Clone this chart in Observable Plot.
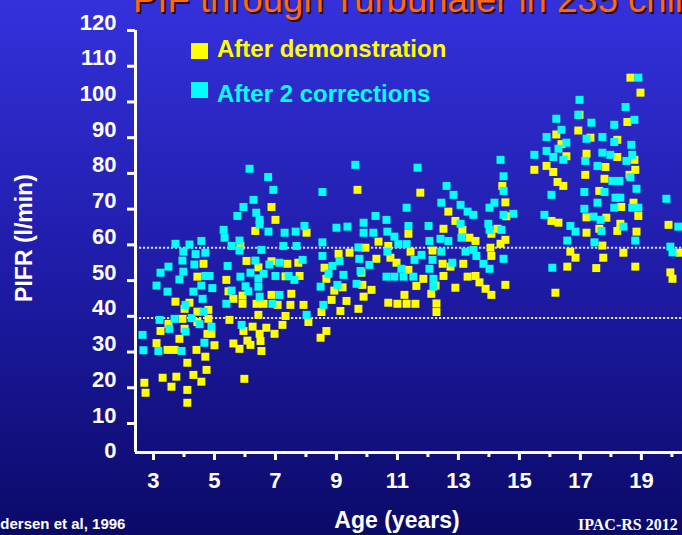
<!DOCTYPE html>
<html>
<head>
<meta charset="utf-8">
<script src="https://cdn.jsdelivr.net/npm/d3@7"></script>
<script src="https://cdn.jsdelivr.net/npm/@observablehq/plot@0.6"></script>
<style>
html, body { margin: 0; padding: 0; overflow: hidden; background: #0b0a6a; }
#stage {
  position: relative; width: 682px; height: 535px; overflow: hidden;
  background: linear-gradient(180deg, #3431dc 0%, #1f1ca8 50%, #0b0a68 100%);
  font-family: "Liberation Sans", Arial, sans-serif;
}
#chart, #overlay { position: absolute; left: 0; top: 0; }
#chart svg { max-width: none !important; width: 740px; height: 500px; }
</style>
</head>
<body>
<div id="stage"><div id="chart"></div></div>
<script>
// ---- data: [age (years), PIFR (l/min)] ----
const afterDemonstration = [
[6.87,70.6],[7.0,67.0],[6.34,63.9],[8.02,63.4],[5.85,59.7],[6.05,55.5],[4.64,54.7],[7.39,54.7],[7.75,55.0],[6.87,55.4],[6.44,53.7],[8.61,53.6],[4.44,51.1],[5.39,50.2],[7.79,51.3],[7.33,51.2],
[5.46,47.0],[5.62,44.9],[5.92,45.8],[5.92,43.5],[6.38,43.5],[6.61,43.5],[6.87,46.0],[7.07,43.2],[7.52,46.3],[7.49,43.2],[7.92,43.2],[3.72,44.1],[4.18,43.8],[4.02,42.1],[4.44,41.3],[4.80,41.8],[4.80,39.3],[3.95,39.3],[3.49,37.9],[3.23,35.9],[4.44,38.4],[4.77,35.1],[4.90,35.1],[4.02,36.5],[3.85,33.7],[3.10,32.5],[3.46,30.6],[3.69,30.6],[4.41,30.6],[5.0,31.9],[4.70,28.7],[4.11,27.0],[4.74,25.0],[4.31,23.6],[3.75,23.1],[3.30,22.8],[4.57,21.7],[3.59,20.3],[4.11,19.4],[2.70,21.4],[2.74,18.6],[4.11,15.8],[5.49,39.0],[6.44,40.4],[5.95,35.9],[6.25,37.1],[6.70,36.8],[7.23,37.6],[7.33,40.1],[6.97,35.1],[6.48,35.1],[6.51,33.1],[6.08,33.2],[6.18,32.0],[5.62,32.4],[5.82,30.9],[6.54,30.3],[5.98,22.5],[8.08,38.4],[8.48,34.0],[8.51,41.2],
[9.69,75.4],[11.75,74.6],[14.44,76.5],[14.54,71.9],[12.67,69.3],[12.90,66.7],[13.13,64.2],[12.51,64.5],[11.36,63.1],[14.08,63.1],[14.28,64.5],[14.54,61.4],[14.38,60.3],[10.38,60.9],[10.70,59.7],[11.43,58.1],[12.15,58.4],[13.36,62.0],[13.56,61.1],[14.05,59.2],[14.08,56.9],[9.07,57.5],[9.43,57.8],[9.95,59.2],[10.31,56.1],[10.77,56.4],[10.97,55.0],[12.48,54.7],[12.74,53.9],[13.16,54.7],[9.82,52.2],[11.36,53.0],[12.51,51.3],[13.30,51.1],[13.56,51.3],[11.85,50.5],[8.67,50.5],
[8.93,47.2],[8.84,44.6],[9.20,48.1],[9.33,44.3],[9.13,41.5],[9.85,48.8],[9.89,45.5],[10.15,47.4],[9.72,42.1],[10.70,43.8],[11.0,43.5],[11.23,46.0],[11.30,43.5],[11.59,43.5],[11.62,48.5],[12.11,46.3],[12.28,43.6],[12.28,41.2],[12.25,48.6],[12.90,48.0],[13.69,49.5],[13.89,47.7],[14.08,46.0],[14.54,48.8],[8.67,35.9],
[18.64,106.8],[18.97,102.6],[16.97,96.4],[18.54,94.4],[16.93,92.0],[16.21,90.9],[17.33,90.0],[18.21,89.4],[16.38,88.2],[16.54,84.8],[17.20,85.5],[18.21,84.6],[18.77,83.8],[17.82,81.8],[18.80,81.0],[15.89,82.1],[15.49,81.0],[16.11,80.4],[17.16,79.6],[18.61,79.6],[17.79,78.5],[16.25,77.6],[16.44,76.5],[17.62,75.1],[18.34,70.6],[18.74,71.8],[18.90,68.1],[17.20,67.7],[17.85,67.6],[16.05,66.7],[16.28,66.2],[18.31,65.9],[17.62,64.5],[17.20,63.4],[18.21,63.9],[18.84,63.7],[19.89,65.6],[14.57,68.0],
[17.72,59.8],[16.67,58.1],[16.84,56.4],[16.57,53.9],[17.75,56.4],[18.41,57.8],[17.52,53.5],[18.80,53.9],[20.25,57.8],[19.95,52.3],[20.02,50.5],[16.18,46.6]
];
const afterTwoCorrections = [
[6.15,81.3],[6.76,79.0],[6.93,75.4],[6.28,72.6],[5.95,70.6],[5.75,68.1],[6.37,69.0],[6.48,67.0],[6.48,65.7],[6.77,63.7],[7.30,63.4],[7.66,63.7],[7.95,65.3],[5.30,64.2],[5.33,62.0],[4.57,61.1],[3.72,60.3],[4.18,60.1],[5.82,61.2],[5.56,59.7],[5.82,58.4],[3.98,58.1],[4.38,57.4],[4.70,57.8],[6.54,58.6],[7.26,59.7],[7.69,59.7],[8.54,60.7],[3.95,55.6],[4.34,54.5],[3.49,53.9],[3.23,52.2],[3.98,52.5],[5.43,54.1],[6.34,55.6],[6.80,54.5],[7.13,55.0],[7.89,55.8],[8.54,56.9],[6.18,52.2],[6.61,51.9],[7.0,51.3],[7.43,51.3],[5.85,51.1],[4.70,51.3],[4.84,51.3],[3.85,50.3],[7.62,50.2],[6.44,50.6],[8.54,74.8],
[3.10,48.6],[3.46,46.9],[4.31,46.9],[4.57,48.6],[4.93,47.9],[4.61,44.9],[4.05,43.2],[5.56,47.2],[5.39,43.5],[6.11,47.0],[6.02,48.4],[6.44,48.3],[6.48,45.5],[7.13,46.0],[6.90,43.5],[8.48,48.3],[8.57,43.2],[3.20,39.0],[3.69,39.3],[4.25,39.5],[4.64,41.3],[4.51,37.8],[4.90,37.1],[3.52,36.5],[4.05,35.7],[2.64,34.8],[2.67,30.5],[3.16,30.3],[3.92,30.3],[4.67,32.6],[5.89,37.6],[8.02,40.4],
[9.62,82.4],[11.66,81.6],[14.38,83.8],[14.48,79.2],[14.48,75.1],[12.61,76.5],[12.84,74.0],[12.44,71.8],[13.07,71.2],[13.30,69.3],[13.49,68.4],[14.18,71.8],[14.02,70.4],[14.48,68.4],[11.30,70.4],[10.28,68.1],[10.64,67.0],[9.89,66.2],[9.36,65.1],[9.0,64.8],[11.36,65.3],[12.02,65.3],[13.07,65.9],[13.98,65.9],[14.02,64.2],[14.41,64.2],[9.89,63.4],[10.21,63.4],[10.67,63.7],[10.90,62.3],[12.05,61.1],[12.41,61.7],[12.67,61.1],[13.10,62.0],[11.03,60.2],[11.30,60.2],[9.72,59.3],[10.67,58.1],[9.10,55.5],[8.87,54.1],[9.75,56.1],[10.08,54.4],[9.79,52.7],[8.74,51.9],[9.23,51.6],[11.56,55.8],[11.79,57.2],[12.15,55.8],[12.44,58.1],[13.23,58.1],[13.49,58.6],[13.59,56.9],[12.80,55.0],[13.82,54.7],[14.02,53.3],[14.48,56.1],[11.13,53.3],[12.05,53.3],[12.18,50.5],[10.64,51.1],[10.90,51.1],[11.20,51.1],[11.52,51.1],[9.66,49.1],[9.03,48.8],[12.18,48.3],
[18.90,106.8],[16.97,100.6],[18.48,98.6],[16.21,95.3],[16.93,96.4],[17.36,94.2],[18.11,93.6],[18.77,95.0],[16.38,92.2],[15.89,90.2],[17.20,89.7],[17.72,90.2],[16.54,88.6],[18.11,88.8],[18.67,88.0],[15.49,85.2],[15.89,86.3],[16.28,86.9],[16.11,84.6],[16.44,83.8],[17.16,83.5],[17.72,85.8],[17.98,85.2],[18.51,83.5],[18.70,85.2],[17.56,82.1],[18.64,78.9],[18.05,77.9],[18.28,77.9],[17.79,74.8],[17.13,74.8],[16.05,74.0],[18.84,75.7],[18.15,73.2],[18.31,73.2],[17.56,71.8],[17.13,70.1],[18.11,70.4],[18.70,70.4],[18.90,70.4],[19.82,72.9],[15.82,68.4],[14.80,68.7],[17.43,67.9],[17.66,67.0],[16.67,65.3],[16.84,63.7],[17.69,63.9],[18.41,65.1],[20.21,65.1],
[16.57,61.2],[17.46,60.7],[18.80,61.2],[19.95,59.5],[20.02,57.9],[16.08,53.6]
];
const seriesNames = ["After demonstration", "After 2 corrections"];
const seriesColors = ["#ffff00", "#00ffff"];
const xTickLabels = [3, 5, 7, 9, 11, 13, 15, 17, 19];
const xMajorTicks = [3, 5, 7, 9, 11, 13, 15, 17, 19, 21];
const xMinorTicks = [4, 6, 8, 10, 12, 14, 16, 18, 20, 22];
const yTickLabels = [0, 10, 20, 30, 40, 50, 60, 70, 80, 90, 100, 110, 120];
const yTickMarks = [10, 20, 30, 40, 50, 60, 70, 80, 90, 100, 110, 120];
const referenceLines = [59.2, 39.5];
const titleText = "PIF through Turbuhaler in 235 children";
const xTitle = "Age (years)";
const yTitle = "PIFR (l/min)";
const sourceLeft = "Pedersen et al, 1996";
const sourceRight = "IPAC-RS 2012";

const xDomain = [2.41, 22.25];
const yDomain = [1.88, 120];
const font = '"Liberation Sans", Arial, sans-serif';

const chart = Plot.plot({
  width: 740, height: 500,
  marginLeft: 135, marginRight: 0, marginTop: 30, marginBottom: 48,
  style: { background: "none", fontFamily: font, overflow: "visible", maxWidth: "none" },
  x: { domain: xDomain, axis: null },
  y: { domain: yDomain, axis: null },
  marks: [
    Plot.ruleY(referenceLines, { stroke: "#dcdcf2", strokeWidth: 2, strokeDasharray: "2.2,1.8" }),
    Plot.dot(afterDemonstration, { x: d => d[0], y: d => d[1], symbol: "square", r: 4.5, fill: seriesColors[0], stroke: "none" }),
    Plot.dot(afterTwoCorrections, { x: d => d[0], y: d => d[1], symbol: "square", r: 4.5, fill: seriesColors[1], stroke: "none" }),
    Plot.ruleX([xDomain[0]], { y1: yDomain[0], y2: yDomain[1], stroke: "white", strokeWidth: 3 }),
    Plot.ruleY([yDomain[0]], { x1: xDomain[0], x2: xDomain[1], stroke: "white", strokeWidth: 3 }),
    Plot.axisY(yTickMarks, { tickSize: 8, stroke: "white", strokeWidth: 3, fill: "none", label: null }),
    Plot.axisY(yTickLabels, { tickSize: 0, tickPadding: 19, stroke: "none", fill: "white", fontSize: 22, fontWeight: "bold", dy: -8, label: null }),
    Plot.axisX(xMajorTicks, { tickSize: 8, stroke: "white", strokeWidth: 3, fill: "none", label: null }),
    Plot.axisX(xMinorTicks, { tickSize: 5, stroke: "white", strokeWidth: 3, fill: "none", label: null }),
    Plot.axisX(xTickLabels, { tickSize: 0, tickPadding: 20, stroke: "none", fill: "white", fontSize: 22, fontWeight: "bold", label: null })
  ]
});
chart.style.maxWidth = "none";
document.getElementById("chart").appendChild(chart);

// ---- titles, legend and footnotes ----
const svg = d3.create("svg").attr("id", "overlay").attr("width", 682).attr("height", 535)
  .style("font-family", font).style("pointer-events", "none");
svg.append("text").attr("x", 135).attr("y", 14).attr("font-size", 36.5).attr("fill", "#2a0c00").text(titleText);
svg.append("text").attr("x", 133).attr("y", 12).attr("font-size", 36.5).attr("fill", "#ff6a10").text(titleText);

const legendY = [[43, 57], [82, 101.5]];
seriesNames.forEach((name, i) => {
  svg.append("rect").attr("x", 191).attr("y", legendY[i][0]).attr("width", 17).attr("height", 16).attr("fill", seriesColors[i]);
  svg.append("text").attr("x", 217).attr("y", legendY[i][1]).attr("font-size", 24).attr("font-weight", "bold")
    .attr("fill", seriesColors[i]).text(name);
});

svg.append("text").attr("transform", "translate(32,238) rotate(-90)").attr("text-anchor", "middle")
  .attr("font-size", 23).attr("font-weight", "bold").attr("fill", "white").text(yTitle);
svg.append("text").attr("x", 397).attr("y", 528).attr("text-anchor", "middle")
  .attr("font-size", 23).attr("font-weight", "bold").attr("fill", "white").text(xTitle);
svg.append("text").attr("x", -18).attr("y", 529).attr("font-size", 15).attr("font-weight", "bold")
  .attr("fill", "white").text(sourceLeft);
svg.append("text").attr("x", 578).attr("y", 530).attr("font-size", 16).attr("font-weight", "bold")
  .attr("font-family", '"Liberation Serif", "Times New Roman", serif').attr("fill", "white").text(sourceRight);
document.getElementById("stage").appendChild(svg.node());
</script>
</body>
</html>
